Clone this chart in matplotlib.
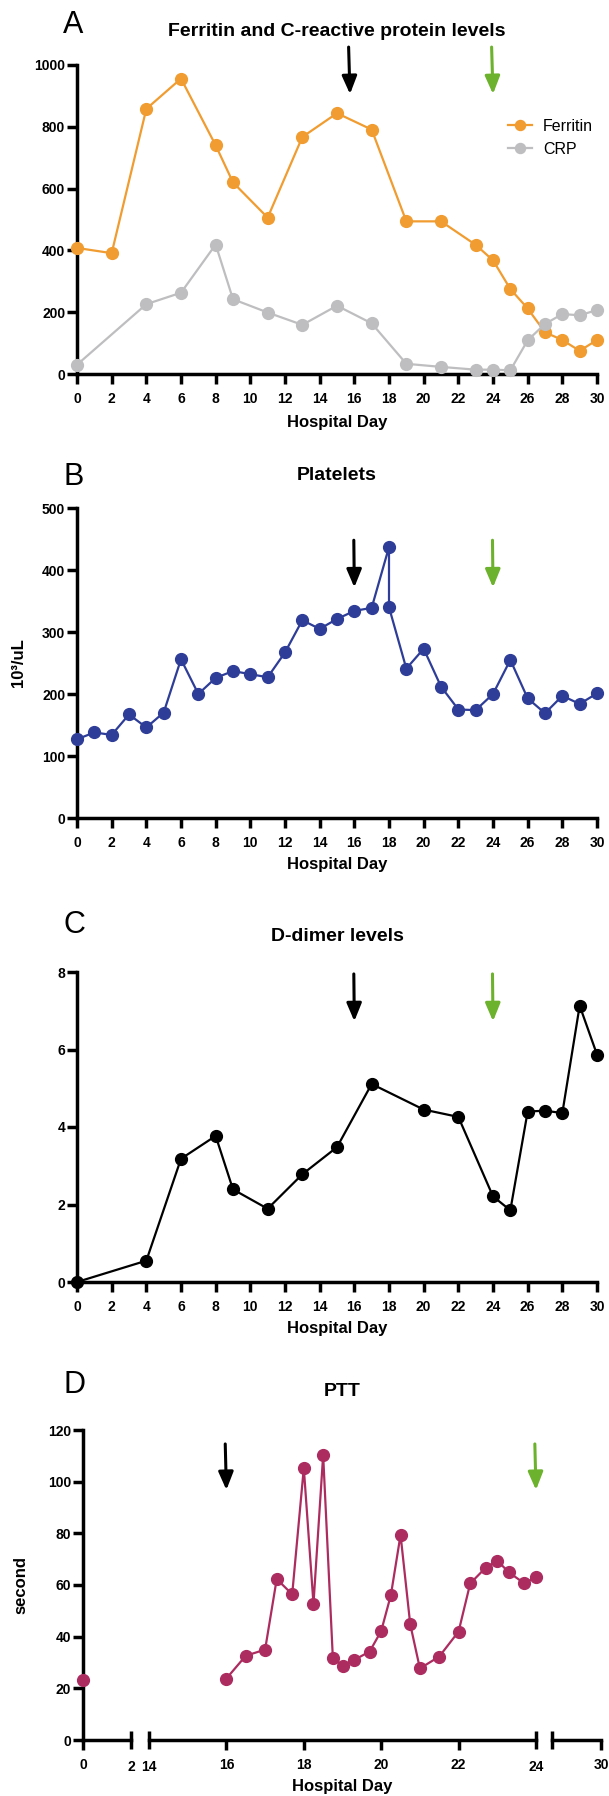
import matplotlib
matplotlib.use("Agg")
import matplotlib.pyplot as plt

plt.rcParams['font.family'] = ['Liberation Sans', 'DejaVu Sans']
plt.rcParams['font.weight'] = 'bold'

W, H = 609, 1796

# ---- data ----
ferritin_days = [0, 2, 4, 6, 8, 9, 11, 13, 15, 17, 19, 21, 23, 24, 25, 26, 27, 28, 29, 30]
ferritin_vals = [408, 391, 858, 956, 740, 620, 506, 767, 844, 791, 494, 494, 418, 368, 275, 212, 135, 110, 75, 110]
crp_days = [0, 4, 6, 8, 9, 11, 13, 15, 17, 19, 21, 23, 24, 25, 26, 27, 28, 29, 30]
crp_vals = [30, 226, 263, 419, 242, 199, 159, 221, 164, 33, 23, 14, 14, 12, 109, 162, 194, 190, 207]

plt_days = [0, 1, 2, 3, 4, 5, 6, 7, 8, 9, 10, 11, 12, 13, 14, 15, 16, 17, 18, 18,
            19, 20, 21, 22, 23, 24, 25, 26, 27, 28, 29, 30]
plt_vals = [127, 138, 134, 167, 146, 170, 256, 200, 226, 237, 232, 227, 267, 319, 305, 321, 334, 339, 437, 340,
            241, 273, 212, 175, 174, 200, 255, 193, 169, 197, 184, 201]

dd_days = [0, 4, 6, 8, 9, 11, 13, 15, 17, 20, 22, 24, 25, 26, 27, 28, 29, 30]
dd_vals = [0, 0.55, 3.18, 3.77, 2.39, 1.89, 2.78, 3.48, 5.11, 4.45, 4.26, 2.21, 1.85, 4.40, 4.42, 4.36, 7.13, 5.87]

ptt_day0 = [0]
ptt_val0 = [23.4]
ptt_days = [16.0, 16.5, 17.0, 17.3, 17.7, 18.0, 18.25, 18.5, 18.75, 19.0, 19.3, 19.7, 20.0, 20.25,
            20.5, 20.75, 21.0, 21.5, 22.0, 22.3, 22.7, 23.0, 23.3, 23.7, 24.0]
ptt_vals = [23.8, 32.6, 35.0, 62.3, 56.4, 105.3, 52.7, 110.3, 31.9, 28.7, 31.0, 34.2, 42.2, 56.1,
            79.4, 44.8, 27.7, 32.3, 42.0, 60.6, 66.7, 69.4, 64.9, 60.6, 63.1]

ORANGE = '#F09C30'
GREY = '#BEBEC0'
BLUE = '#2E3D97'
CRIMSON = '#AC2C60'
GREEN = '#6CB22C'

fig = plt.figure(figsize=(W / 100, H / 100), dpi=100)


def px_axes(left, top, right, bottom):
    return fig.add_axes([left / W, 1 - bottom / H, (right - left) / W, (bottom - top) / H])


def style(ax, left=True):
    for s in ['top', 'right']:
        ax.spines[s].set_visible(False)
    ax.spines['bottom'].set_linewidth(2.5)
    if left:
        ax.spines['left'].set_linewidth(2.5)
    else:
        ax.spines['left'].set_visible(False)
        ax.tick_params(axis='y', left=False, labelleft=False)
    ax.tick_params(width=2.5, length=7, labelsize=10)
    ax.tick_params(axis='x', pad=6)
    ax.tick_params(axis='y', pad=1.5)


def arrows(ax, xb, xg, top, tip, slant=0.0):
    for x, c in [(xb, 'black'), (xg, GREEN)]:
        ax.annotate('', xy=(x, tip), xytext=(x - slant, top),
                    arrowprops=dict(arrowstyle='-|>,head_length=0.6,head_width=0.25', color=c, lw=2.2,
                                    mutation_scale=18, shrinkA=0, shrinkB=0),
                    annotation_clip=False)


def ptext(x, y, s, size, weight='bold', rot=0):
    fig.text(x / W, 1 - y / H, s, ha='center', va='center', fontsize=size, fontweight=weight, rotation=rot)


mk = dict(marker='o', markersize=8.5, lw=1.6, clip_on=False, zorder=3)

# ---- A ----
axA = px_axes(77, 65, 597, 374)
axA.plot(ferritin_days, ferritin_vals, color=ORANGE, label='Ferritin', **mk)
axA.plot(crp_days, crp_vals, color=GREY, label='CRP', **mk)
axA.set_xlim(0, 30)
axA.set_ylim(0, 1000)
axA.set_xticks(range(0, 31, 2))
axA.set_yticks(range(0, 1001, 200))
style(axA)
arrows(axA, 15.75, 24, 1058, 906, slant=0.08)
axA.legend(loc='upper left', bbox_to_anchor=(508 / W, 1 - 119 / H), bbox_transform=fig.transFigure,
           frameon=False, prop={'size': 11.5, 'weight': 'normal'}, handlelength=1.5,
           handletextpad=0.7, labelspacing=0.5, borderpad=0, borderaxespad=0, markerscale=0.85)
ptext(73, 25, 'A', 22, 'normal')
ptext(337, 31, 'Ferritin and C-reactive protein levels', 14)
ptext(337, 422, 'Hospital Day', 12)

# ---- B ----
axB = px_axes(77, 508, 597, 818)
axB.plot(plt_days, plt_vals, color=BLUE, **mk)
axB.set_xlim(0, 30)
axB.set_ylim(0, 500)
axB.set_xticks(range(0, 31, 2))
axB.set_yticks(range(0, 501, 100))
style(axB)
arrows(axB, 16, 24, 448, 372, slant=0.03)
ptext(74, 477, 'B', 22, 'normal')
ptext(337, 475, 'Platelets', 14)
ptext(337, 865, 'Hospital Day', 12)
ptext(19, 663, '10³/uL', 12, rot=90)

# ---- C ----
axC = px_axes(77, 972, 597, 1282)
axC.plot(dd_days, dd_vals, color='black', **mk)
axC.set_xlim(0, 30)
axC.set_ylim(0, 8)
axC.set_xticks(range(0, 31, 2))
axC.set_yticks(range(0, 9, 2))
style(axC)
arrows(axC, 16, 24, 7.95, 6.73, slant=0.03)
ptext(74, 925, 'C', 22, 'normal')
ptext(337, 937, 'D-dimer levels', 14)
ptext(337, 1328, 'Hospital Day', 12)

# ---- D (broken x axis) ----
d1 = px_axes(83, 1430, 131, 1740)
d2 = px_axes(149, 1430, 536, 1740)
d3 = px_axes(552, 1430, 601, 1740)
d1.plot(ptt_day0, ptt_val0, color=CRIMSON, **mk)
d2.plot(ptt_days, ptt_vals, color=CRIMSON, **mk)
for ax, lim in [(d1, (0, 2)), (d2, (14, 24)), (d3, (28, 30))]:
    ax.set_xlim(*lim)
    ax.set_ylim(0, 120)
    ax.patch.set_alpha(0)
style(d1)
style(d2, left=False)
style(d3, left=False)
d1.set_yticks(range(0, 121, 20))
d1.set_xticks([0])
d1.set_xticks([2], labels=['2'], minor=True)
d2.set_xticks([16, 18, 20, 22])
d2.set_xticks([14, 24], labels=['14', '24'], minor=True)
d3.set_xticks([30])
d3.set_xticks([28], labels=[''], minor=True)
for ax in (d1, d2, d3):
    ax.tick_params(axis='x', which='minor', direction='inout', length=13, width=2.5,
                   labelsize=10, pad=8)
    for lab in ax.get_xticklabels(minor=True):
        lab.set_fontweight('bold')
arrows(d2, 16, 24, 114.6, 96.8, slant=0.03)
ptext(74, 1385, 'D', 22, 'normal')
ptext(342, 1392, 'PTT', 14)
ptext(342, 1787, 'Hospital Day', 12)
ptext(21, 1585, 'second', 12, rot=90)

fig.savefig('out.png', dpi=100)
